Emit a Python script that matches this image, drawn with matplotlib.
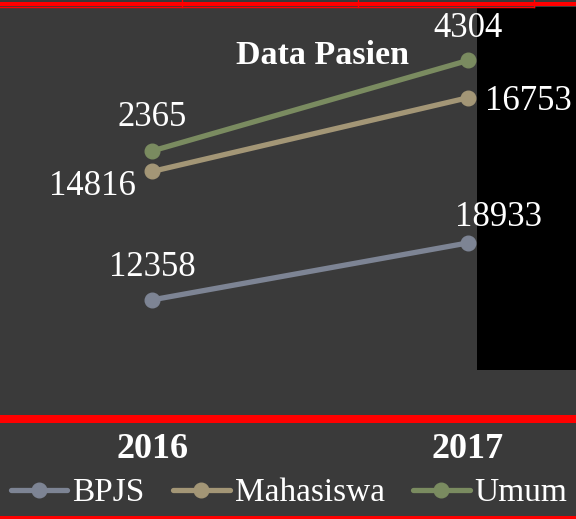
import matplotlib.pyplot as plt
from matplotlib.patches import Rectangle
from matplotlib.lines import Line2D

# Data
years = ['2016', '2017']
bpjs = [12358, 18933]
mahasiswa = [14816, 16753]
umum = [2365, 4304]

# stacked totals (the chart stacks the series)
mah_top = [b + m for b, m in zip(bpjs, mahasiswa)]
umum_top = [t + u for t, u in zip(mah_top, umum)]

bg = '#3a3a3a'
c_bpjs = '#7d8494'
c_mah = '#a39676'
c_umum = '#7a8b60'
red = '#ff0000'

plt.rcParams['font.family'] = ['Liberation Serif', 'DejaVu Serif']

W, H = 576, 519
fig = plt.figure(figsize=(W / 100, H / 100), dpi=100, facecolor=bg)

# black panel behind right side
fig.patches.append(Rectangle((477 / W, 1 - 370 / H), 99 / W, 363 / H,
                             transform=fig.transFigure, facecolor='black',
                             edgecolor='none', zorder=-1))
# red border bits
fig.patches.append(Rectangle((0, 1 - 5.7 / H), 1, 4 / H, transform=fig.transFigure,
                             facecolor=red, edgecolor='none', zorder=5))
fig.add_artist(Line2D([0, 534 / W], [1 - 7 / H] * 2, color=red, lw=1))
for xv in (182, 358, 534):
    fig.add_artist(Line2D([xv / W] * 2, [1, 1 - 7 / H], color=red, lw=1))
fig.patches.append(Rectangle((0, 1 - 423 / H), 1, 8 / H, transform=fig.transFigure,
                             facecolor=red, edgecolor='none', zorder=5))
fig.patches.append(Rectangle((0, 0), 1, 3 / H, transform=fig.transFigure,
                             facecolor=red, edgecolor='none', zorder=5))

ax = fig.add_axes([0, 1 - 407 / H, 1, (407 - 17) / H])
ax.patch.set_visible(False)
x = [0, 1]
kw = dict(lw=3.8, marker='o', markersize=10.5, solid_capstyle='round')
ax.plot(x, bpjs, color=c_bpjs, label='BPJS', **kw)
ax.plot(x, mah_top, color=c_mah, label='Mahasiswa', **kw)
ax.plot(x, umum_top, color=c_umum, label='Umum', **kw)

ax.set_xlim(-152 / 316, 424 / 316)
ax.set_ylim(0, 45000)
for s in ax.spines.values():
    s.set_visible(False)
ax.set_yticks([])
ax.set_xticks(x, years)
ax.tick_params(axis='x', length=0, pad=19, labelsize=26, labelcolor='white')
for t in ax.get_xticklabels():
    t.set_fontweight('bold')

lab = dict(color='white', fontsize=25, textcoords='offset pixels', va='center')
ax.annotate(str(umum[0]), (0, umum_top[0]), xytext=(0, 33), ha='center', **lab)
ax.annotate(str(mahasiswa[0]), (0, mah_top[0]), xytext=(-16, -15), ha='right', **lab)
ax.annotate(str(bpjs[0]), (0, bpjs[0]), xytext=(0, 32), ha='center', **lab)
ax.annotate(str(umum[1]), (1, umum_top[1]), xytext=(0, 32), ha='center', **lab)
ax.annotate(str(mahasiswa[1]), (1, mah_top[1]), xytext=(17, -4), ha='left', **lab)
ax.annotate(str(bpjs[1]), (1, bpjs[1]), xytext=(30, 25), ha='center', **lab)

fig.text(322 / W, 1 - 55 / H, 'Data Pasien', color='white', fontsize=24.5,
         fontweight='bold', ha='center', va='center')

leg = fig.legend(loc='center', bbox_to_anchor=(0.502, 1 - 493 / H), ncol=3,
                 frameon=False, fontsize=24, labelcolor='white',
                 handlelength=1.7, handletextpad=0.15, columnspacing=0.85)

fig.savefig('out.png', dpi=100, facecolor=bg)
